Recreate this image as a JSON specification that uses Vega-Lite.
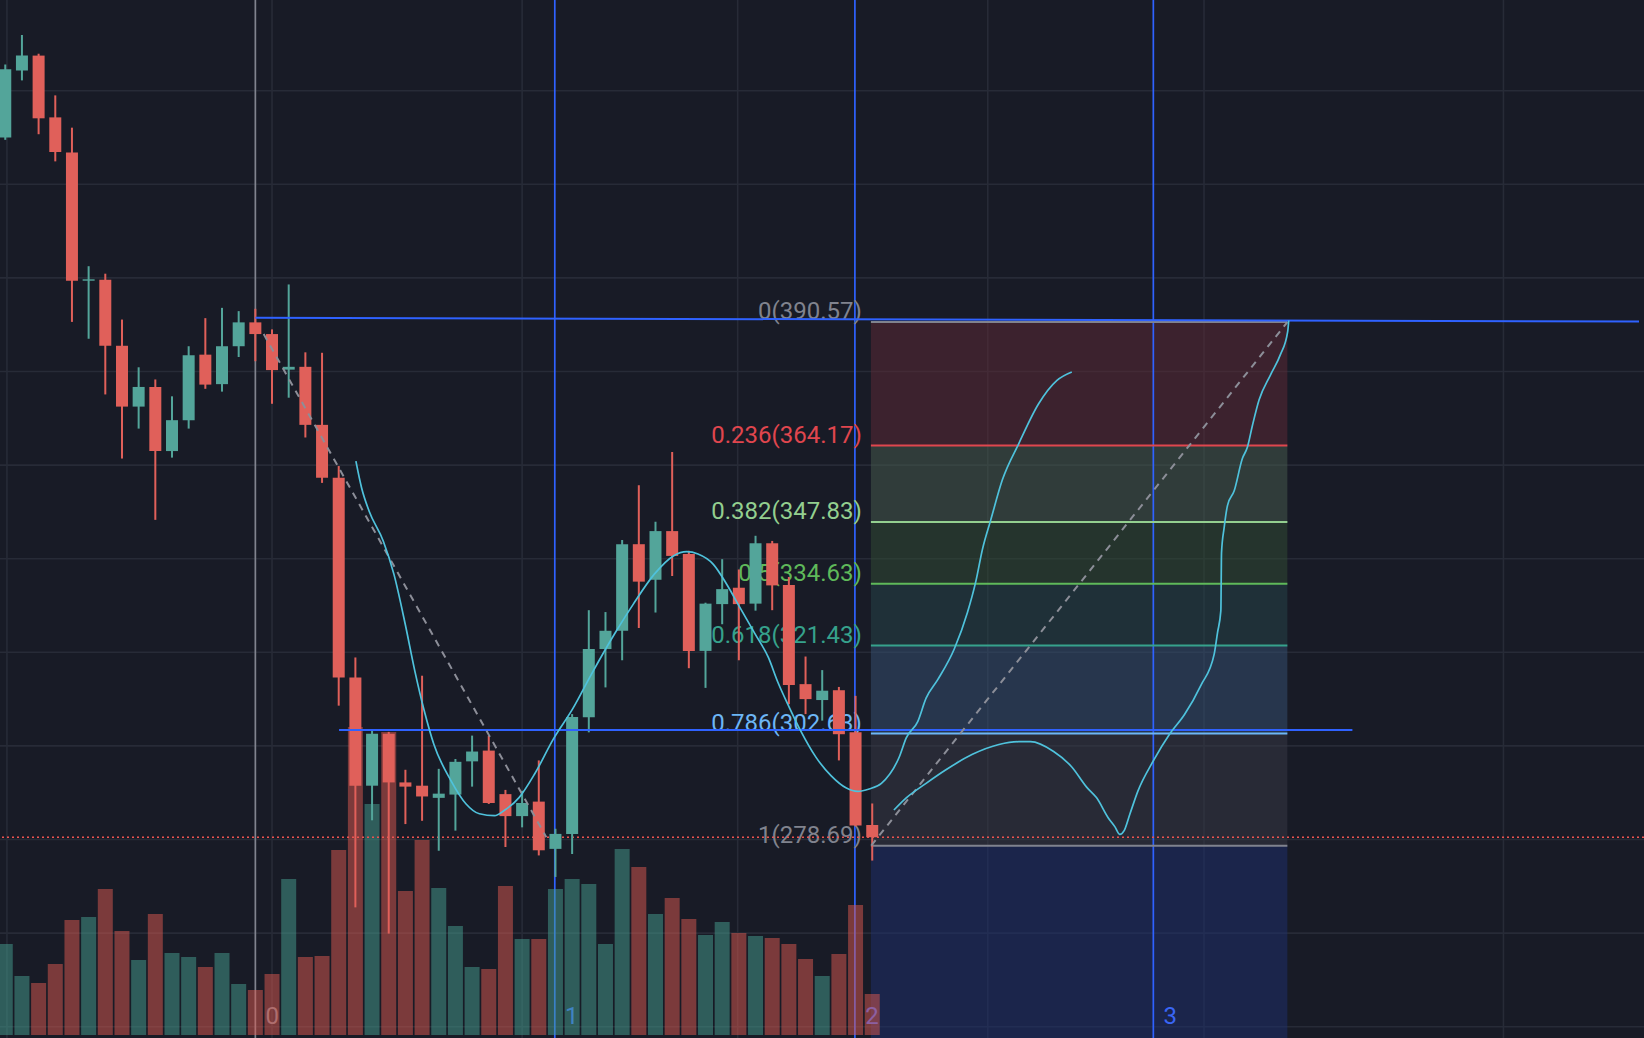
{
  "$schema": "https://vega.github.io/schema/vega-lite/v6.json",
  "width": 1644,
  "height": 1038,
  "autosize": "none",
  "padding": 0,
  "background": "#181b26",
  "config": {
    "view": {"stroke": null},
    "axis": {"disable": true},
    "legend": {"disable": true}
  },
  "datasets": {
    "candles": [
      {"i": -15, "open": 430.0, "high": 445.6, "low": 429.5, "close": 444.6, "volume": 91},
      {"i": -14, "open": 444.3, "high": 451.9, "low": 442.2, "close": 447.5, "volume": 59},
      {"i": -13, "open": 447.5, "high": 447.9, "low": 430.7, "close": 434.1, "volume": 52},
      {"i": -12, "open": 434.3, "high": 439.0, "low": 424.9, "close": 426.9, "volume": 71},
      {"i": -11, "open": 426.8, "high": 432.1, "low": 390.6, "close": 399.4, "volume": 115},
      {"i": -10, "open": 399.4, "high": 402.5, "low": 387.0, "close": 399.7, "volume": 118},
      {"i": -9, "open": 399.6, "high": 400.9, "low": 375.1, "close": 385.5, "volume": 146},
      {"i": -8, "open": 385.5, "high": 391.1, "low": 361.4, "close": 372.5, "volume": 104},
      {"i": -7, "open": 372.5, "high": 380.9, "low": 367.8, "close": 376.7, "volume": 75},
      {"i": -6, "open": 376.7, "high": 378.3, "low": 348.3, "close": 363.0, "volume": 121},
      {"i": -5, "open": 363.0, "high": 374.7, "low": 361.6, "close": 369.6, "volume": 82},
      {"i": -4, "open": 369.6, "high": 385.4, "low": 367.8, "close": 383.5, "volume": 78},
      {"i": -3, "open": 383.6, "high": 391.4, "low": 376.3, "close": 377.2, "volume": 68},
      {"i": -2, "open": 377.3, "high": 393.6, "low": 375.7, "close": 385.4, "volume": 82},
      {"i": -1, "open": 385.4, "high": 392.9, "low": 383.1, "close": 390.5, "volume": 51},
      {"i": 0, "open": 390.5, "high": 393.4, "low": 382.2, "close": 388.0, "volume": 45},
      {"i": 1, "open": 388.0, "high": 389.0, "low": 373.1, "close": 380.3, "volume": 61},
      {"i": 2, "open": 380.4, "high": 398.6, "low": 374.4, "close": 381.0, "volume": 156},
      {"i": 3, "open": 381.0, "high": 384.1, "low": 365.9, "close": 368.6, "volume": 78},
      {"i": 4, "open": 368.6, "high": 384.0, "low": 356.2, "close": 357.3, "volume": 79},
      {"i": 5, "open": 357.3, "high": 359.8, "low": 308.6, "close": 314.6, "volume": 185},
      {"i": 6, "open": 314.6, "high": 318.9, "low": 265.5, "close": 291.5, "volume": 308},
      {"i": 7, "open": 291.5, "high": 303.4, "low": 284.1, "close": 302.6, "volume": 231},
      {"i": 8, "open": 302.6, "high": 303.0, "low": 259.9, "close": 292.2, "volume": 303},
      {"i": 9, "open": 292.2, "high": 294.9, "low": 283.3, "close": 291.3, "volume": 144},
      {"i": 10, "open": 291.5, "high": 315.0, "low": 284.0, "close": 289.2, "volume": 195},
      {"i": 11, "open": 288.9, "high": 295.1, "low": 277.6, "close": 289.8, "volume": 147},
      {"i": 12, "open": 289.6, "high": 297.2, "low": 281.9, "close": 296.6, "volume": 109},
      {"i": 13, "open": 296.7, "high": 302.2, "low": 291.3, "close": 298.8, "volume": 68},
      {"i": 14, "open": 299.0, "high": 302.2, "low": 287.6, "close": 287.8, "volume": 66},
      {"i": 15, "open": 289.7, "high": 290.6, "low": 278.4, "close": 285.0, "volume": 149},
      {"i": 16, "open": 285.0, "high": 290.4, "low": 282.6, "close": 287.8, "volume": 96},
      {"i": 17, "open": 288.1, "high": 296.9, "low": 276.6, "close": 277.7, "volume": 96},
      {"i": 18, "open": 278.0, "high": 282.3, "low": 272.0, "close": 281.2, "volume": 146},
      {"i": 19, "open": 281.2, "high": 306.8, "low": 276.9, "close": 306.2, "volume": 156},
      {"i": 20, "open": 306.1, "high": 329.0, "low": 302.9, "close": 320.7, "volume": 151},
      {"i": 21, "open": 320.7, "high": 328.6, "low": 312.5, "close": 324.6, "volume": 91},
      {"i": 22, "open": 324.6, "high": 344.0, "low": 318.3, "close": 343.1, "volume": 186},
      {"i": 23, "open": 343.1, "high": 355.7, "low": 325.2, "close": 335.1, "volume": 168},
      {"i": 24, "open": 335.5, "high": 347.9, "low": 328.5, "close": 345.9, "volume": 121},
      {"i": 25, "open": 345.9, "high": 362.8, "low": 336.3, "close": 340.6, "volume": 137},
      {"i": 26, "open": 341.0, "high": 341.7, "low": 316.6, "close": 320.3, "volume": 116},
      {"i": 27, "open": 320.3, "high": 330.6, "low": 312.4, "close": 330.4, "volume": 100},
      {"i": 28, "open": 330.3, "high": 339.9, "low": 326.0, "close": 333.5, "volume": 113},
      {"i": 29, "open": 333.8, "high": 337.7, "low": 318.3, "close": 330.3, "volume": 102},
      {"i": 30, "open": 330.4, "high": 344.9, "low": 328.9, "close": 343.3, "volume": 99},
      {"i": 31, "open": 343.3, "high": 343.8, "low": 329.0, "close": 334.3, "volume": 97},
      {"i": 32, "open": 334.4, "high": 336.1, "low": 308.9, "close": 313.0, "volume": 91},
      {"i": 33, "open": 313.2, "high": 319.1, "low": 306.8, "close": 310.0, "volume": 76},
      {"i": 34, "open": 309.8, "high": 316.2, "low": 305.4, "close": 311.8, "volume": 59},
      {"i": 35, "open": 311.9, "high": 312.6, "low": 296.9, "close": 302.5, "volume": 81},
      {"i": 36, "open": 302.9, "high": 310.7, "low": 282.8, "close": 283.0, "volume": 130},
      {"i": 37, "open": 283.1, "high": 287.7, "low": 275.5, "close": 280.48, "volume": 41}
    ],
    "hgrid": [
      {"p": 240}, {"p": 260}, {"p": 280}, {"p": 300}, {"p": 320}, {"p": 340},
      {"p": 360}, {"p": 380}, {"p": 400}, {"p": 420}, {"p": 440}
    ],
    "vgrid": [
      {"i": -14.9}, {"i": 1.0}, {"i": 16.0}, {"i": 28.93}, {"i": 43.93}, {"i": 56.9}, {"i": 74.86}
    ],
    "zones": [
      {"zone": "0-0.236", "top": 390.57, "bottom": 364.17, "start": 36.92, "end": 61.9},
      {"zone": "0.236-0.382", "top": 364.17, "bottom": 347.83, "start": 36.92, "end": 61.9},
      {"zone": "0.382-0.5", "top": 347.83, "bottom": 334.63, "start": 36.92, "end": 61.9},
      {"zone": "0.5-0.618", "top": 334.63, "bottom": 321.43, "start": 36.92, "end": 61.9},
      {"zone": "0.618-0.786", "top": 321.43, "bottom": 302.63, "start": 36.92, "end": 61.9},
      {"zone": "0.786-1", "top": 302.63, "bottom": 278.69, "start": 36.92, "end": 61.9},
      {"zone": "1-1.618", "top": 278.69, "bottom": 237.59, "start": 36.92, "end": 61.9}
    ],
    "levels": [
      {"ratio": "0", "price": 390.57, "label": "0(390.57)", "start": 36.92, "end": 61.9},
      {"ratio": "0.236", "price": 364.17, "label": "0.236(364.17)", "start": 36.92, "end": 61.9},
      {"ratio": "0.382", "price": 347.83, "label": "0.382(347.83)", "start": 36.92, "end": 61.9},
      {"ratio": "0.5", "price": 334.63, "label": "0.5(334.63)", "start": 36.92, "end": 61.9},
      {"ratio": "0.618", "price": 321.43, "label": "0.618(321.43)", "start": 36.92, "end": 61.9},
      {"ratio": "0.786", "price": 302.63, "label": "0.786(302.63)", "start": 36.92, "end": 61.9},
      {"ratio": "1", "price": 278.69, "label": "1(278.69)", "start": 36.92, "end": 61.9}
    ],
    "cycles": [
      {"n": 0, "i": 0}, {"n": 1, "i": 17.96}, {"n": 2, "i": 35.96}, {"n": 3, "i": 53.86}
    ],
    "trend": [
      {"line": "top", "i": 0, "p": 391.5},
      {"line": "top", "i": 82.99, "p": 390.66},
      {"line": "mid", "i": 5.02, "p": 303.4},
      {"line": "mid", "i": 65.8, "p": 303.4}
    ],
    "dashed": [
      {"seg": "a", "i": 0.5, "p": 388.0},
      {"seg": "a", "i": 17.45, "p": 280.5},
      {"seg": "b", "i": 36.94, "p": 278.69},
      {"seg": "b", "i": 61.9, "p": 390.57}
    ],
    "brush": [
      {"path": "a", "k": 1, "i": 6.03, "p": 360.86},
      {"path": "a", "k": 2, "i": 6.37, "p": 355.17},
      {"path": "a", "k": 3, "i": 6.82, "p": 350.2},
      {"path": "a", "k": 4, "i": 7.67, "p": 343.8},
      {"path": "a", "k": 5, "i": 8.31, "p": 336.7},
      {"path": "a", "k": 6, "i": 8.99, "p": 326.0},
      {"path": "a", "k": 7, "i": 9.56, "p": 316.1},
      {"path": "a", "k": 8, "i": 10.13, "p": 307.5},
      {"path": "a", "k": 9, "i": 10.7, "p": 300.4},
      {"path": "a", "k": 10, "i": 11.73, "p": 292.6},
      {"path": "a", "k": 11, "i": 12.64, "p": 287.6},
      {"path": "a", "k": 12, "i": 13.44, "p": 285.5},
      {"path": "a", "k": 13, "i": 14.35, "p": 285.1},
      {"path": "a", "k": 14, "i": 14.92, "p": 286.2},
      {"path": "a", "k": 15, "i": 15.83, "p": 289.0},
      {"path": "a", "k": 16, "i": 16.75, "p": 294.0},
      {"path": "a", "k": 17, "i": 17.88, "p": 301.5},
      {"path": "a", "k": 18, "i": 19.03, "p": 307.9},
      {"path": "a", "k": 19, "i": 20.17, "p": 315.4},
      {"path": "a", "k": 20, "i": 21.54, "p": 323.9},
      {"path": "a", "k": 21, "i": 22.67, "p": 330.3},
      {"path": "a", "k": 22, "i": 23.93, "p": 336.7},
      {"path": "a", "k": 23, "i": 25.07, "p": 340.6},
      {"path": "a", "k": 24, "i": 25.87, "p": 341.5},
      {"path": "a", "k": 25, "i": 26.55, "p": 341.0},
      {"path": "a", "k": 26, "i": 27.47, "p": 338.8},
      {"path": "a", "k": 27, "i": 28.26, "p": 334.6},
      {"path": "a", "k": 28, "i": 29.06, "p": 329.6},
      {"path": "a", "k": 29, "i": 29.98, "p": 323.9},
      {"path": "a", "k": 30, "i": 30.77, "p": 318.9},
      {"path": "a", "k": 31, "i": 31.34, "p": 313.6},
      {"path": "a", "k": 32, "i": 32.03, "p": 308.2},
      {"path": "a", "k": 33, "i": 32.71, "p": 303.2},
      {"path": "a", "k": 34, "i": 33.62, "p": 297.6},
      {"path": "a", "k": 35, "i": 34.54, "p": 293.6},
      {"path": "a", "k": 36, "i": 35.45, "p": 291.0},
      {"path": "a", "k": 37, "i": 36.13, "p": 290.3},
      {"path": "a", "k": 38, "i": 36.82, "p": 290.8},
      {"path": "a", "k": 39, "i": 37.55, "p": 292.0},
      {"path": "a", "k": 40, "i": 38.64, "p": 297.8},
      {"path": "a", "k": 41, "i": 39.04, "p": 301.7},
      {"path": "a", "k": 42, "i": 39.73, "p": 305.2},
      {"path": "a", "k": 43, "i": 40.23, "p": 310.2},
      {"path": "a", "k": 44, "i": 40.92, "p": 314.1},
      {"path": "a", "k": 45, "i": 41.92, "p": 320.7},
      {"path": "a", "k": 46, "i": 42.71, "p": 328.5},
      {"path": "a", "k": 47, "i": 43.21, "p": 335.1},
      {"path": "a", "k": 48, "i": 43.61, "p": 342.0},
      {"path": "a", "k": 49, "i": 44.11, "p": 348.3},
      {"path": "a", "k": 50, "i": 44.8, "p": 356.8},
      {"path": "a", "k": 51, "i": 45.79, "p": 364.6},
      {"path": "a", "k": 52, "i": 46.98, "p": 373.1},
      {"path": "a", "k": 53, "i": 48.08, "p": 378.1},
      {"path": "a", "k": 54, "i": 48.97, "p": 379.9},
      {"path": "b", "k": 1, "i": 38.3, "p": 286.3},
      {"path": "b", "k": 2, "i": 39.04, "p": 288.9},
      {"path": "b", "k": 3, "i": 40.23, "p": 292.0},
      {"path": "b", "k": 4, "i": 41.42, "p": 294.9},
      {"path": "b", "k": 5, "i": 43.01, "p": 298.2},
      {"path": "b", "k": 6, "i": 44.6, "p": 300.3},
      {"path": "b", "k": 7, "i": 45.79, "p": 300.9},
      {"path": "b", "k": 8, "i": 46.49, "p": 300.9},
      {"path": "b", "k": 9, "i": 47.88, "p": 298.8},
      {"path": "b", "k": 10, "i": 48.97, "p": 295.5},
      {"path": "b", "k": 11, "i": 49.86, "p": 291.2},
      {"path": "b", "k": 12, "i": 50.46, "p": 288.9},
      {"path": "b", "k": 13, "i": 51.16, "p": 284.6},
      {"path": "b", "k": 14, "i": 51.56, "p": 282.7},
      {"path": "b", "k": 15, "i": 51.85, "p": 281.1},
      {"path": "b", "k": 16, "i": 52.11, "p": 281.9},
      {"path": "b", "k": 17, "i": 52.45, "p": 285.4},
      {"path": "b", "k": 18, "i": 52.94, "p": 290.4},
      {"path": "b", "k": 19, "i": 53.84, "p": 296.7},
      {"path": "b", "k": 20, "i": 54.83, "p": 302.5},
      {"path": "b", "k": 21, "i": 55.73, "p": 306.7},
      {"path": "b", "k": 22, "i": 56.72, "p": 313.0},
      {"path": "b", "k": 23, "i": 57.51, "p": 319.6},
      {"path": "b", "k": 24, "i": 57.71, "p": 324.2},
      {"path": "b", "k": 25, "i": 57.91, "p": 328.9},
      {"path": "b", "k": 26, "i": 57.95, "p": 341.3},
      {"path": "b", "k": 27, "i": 58.11, "p": 346.7},
      {"path": "b", "k": 28, "i": 58.31, "p": 351.4},
      {"path": "b", "k": 29, "i": 58.71, "p": 354.5},
      {"path": "b", "k": 30, "i": 59.2, "p": 361.4},
      {"path": "b", "k": 31, "i": 59.5, "p": 363.8},
      {"path": "b", "k": 32, "i": 59.8, "p": 368.4},
      {"path": "b", "k": 33, "i": 60.2, "p": 373.9},
      {"path": "b", "k": 34, "i": 60.89, "p": 379.3},
      {"path": "b", "k": 35, "i": 61.48, "p": 383.6},
      {"path": "b", "k": 36, "i": 61.92, "p": 388.6},
      {"path": "b", "k": 37, "i": 61.98, "p": 390.9}
    ]
  },
  "resolve": {"scale": {"y": "independent", "color": "independent"}},
  "layer": [
    {
      "layer": [
        {
          "data": {"name": "hgrid"},
          "mark": {"type": "rule", "color": "#272b37", "strokeWidth": 1.6},
          "encoding": {
            "y": {"field": "p", "type": "quantitative", "scale": {"domain": [237.59, 459.38], "nice": false, "zero": false}}
          }
        },
        {
          "data": {"name": "vgrid"},
          "mark": {"type": "rule", "color": "#272b37", "strokeWidth": 1.6},
          "encoding": {
            "x": {"field": "i", "type": "quantitative", "scale": {"domain": [-15.016, 82.99], "nice": false, "zero": false}}
          }
        },
        {
          "data": {"name": "zones"},
          "mark": {"type": "rect", "opacity": 0.5},
          "encoding": {
            "x": {"field": "start", "type": "quantitative", "scale": {"domain": [-15.016, 82.99], "nice": false, "zero": false}},
            "x2": {"field": "end"},
            "y": {"field": "top", "type": "quantitative", "scale": {"domain": [237.59, 459.38], "nice": false, "zero": false}},
            "y2": {"field": "bottom"},
            "color": {
              "field": "zone", "type": "nominal", "legend": null,
              "scale": {
                "domain": ["0-0.236", "0.236-0.382", "0.382-0.5", "0.5-0.618", "0.618-0.786", "0.786-1", "1-1.618"],
                "range": ["#602936", "#485d4e", "#324d34", "#26454a", "#365174", "#383946", "#1e2f70"]
              }
            }
          }
        },
        {
          "data": {"name": "cycles"},
          "mark": {"type": "rule", "strokeWidth": 1.7},
          "encoding": {
            "x": {"field": "i", "type": "quantitative", "scale": {"domain": [-15.016, 82.99], "nice": false, "zero": false}},
            "color": {"condition": {"test": "datum.n == 0", "value": "#80838e"}, "value": "#2f62ff"}
          }
        },
        {
          "data": {"name": "cycles"},
          "mark": {"type": "text", "font": "Roboto", "fontSize": 24, "align": "center", "baseline": "alphabetic", "dx": 17},
          "encoding": {
            "x": {"field": "i", "type": "quantitative", "scale": {"domain": [-15.016, 82.99], "nice": false, "zero": false}},
            "y": {"datum": 240.6, "type": "quantitative", "scale": {"domain": [237.59, 459.38], "nice": false, "zero": false}},
            "text": {"field": "n"},
            "color": {"condition": {"test": "datum.n == 0", "value": "#80838e"}, "value": "#3a66f5"}
          }
        }
      ]
    },
    {
      "data": {"name": "candles"},
      "mark": {"type": "bar", "size": 15, "opacity": 0.5},
      "encoding": {
        "x": {"field": "i", "type": "quantitative", "scale": {"domain": [-15.016, 82.99], "nice": false, "zero": false}},
        "y": {"field": "volume", "type": "quantitative", "scale": {"domain": [-3, 1035], "nice": false}},
        "color": {"condition": {"test": "datum.close >= datum.open", "value": "#469f90"}, "value": "#de5950"}
      }
    },
    {
      "layer": [
        {
          "data": {"name": "levels"},
          "mark": {"type": "text", "font": "Roboto", "fontSize": 24, "align": "right", "baseline": "alphabetic", "dx": -9, "dy": -3},
          "encoding": {
            "x": {"field": "start", "type": "quantitative", "scale": {"domain": [-15.016, 82.99], "nice": false, "zero": false}},
            "y": {"field": "price", "type": "quantitative", "scale": {"domain": [237.59, 459.38], "nice": false, "zero": false}},
            "text": {"field": "label"},
            "color": {
              "field": "ratio", "type": "nominal", "legend": null,
              "scale": {
                "domain": ["0", "0.236", "0.382", "0.5", "0.618", "0.786", "1"],
                "range": ["#80838e", "#e0464e", "#93cf8f", "#5fb95a", "#36a28c", "#6db6f5", "#80838e"]
              }
            }
          }
        },
        {
          "data": {"name": "levels"},
          "mark": {"type": "rule", "strokeWidth": 2},
          "encoding": {
            "x": {"field": "start", "type": "quantitative", "scale": {"domain": [-15.016, 82.99], "nice": false, "zero": false}},
            "x2": {"field": "end"},
            "y": {"field": "price", "type": "quantitative", "scale": {"domain": [237.59, 459.38], "nice": false, "zero": false}},
            "color": {"field": "ratio", "type": "nominal", "legend": null}
          }
        },
        {
          "data": {"name": "candles"},
          "transform": [{"filter": "datum.i == 37"}],
          "mark": {"type": "rule", "color": "#ef5350", "strokeWidth": 1.6, "strokeDash": [2, 3]},
          "encoding": {
            "y": {"field": "close", "type": "quantitative", "scale": {"domain": [237.59, 459.38], "nice": false, "zero": false}}
          }
        },
        {
          "data": {"name": "candles"},
          "mark": {"type": "rule", "strokeWidth": 2},
          "encoding": {
            "x": {"field": "i", "type": "quantitative", "scale": {"domain": [-15.016, 82.99], "nice": false, "zero": false}},
            "y": {"field": "low", "type": "quantitative", "scale": {"domain": [237.59, 459.38], "nice": false, "zero": false}},
            "y2": {"field": "high"},
            "color": {"condition": {"test": "datum.close >= datum.open", "value": "#53a59a"}, "value": "#e0605a"}
          }
        },
        {
          "data": {"name": "candles"},
          "mark": {"type": "bar", "size": 12},
          "encoding": {
            "x": {"field": "i", "type": "quantitative", "scale": {"domain": [-15.016, 82.99], "nice": false, "zero": false}},
            "y": {"field": "open", "type": "quantitative", "scale": {"domain": [237.59, 459.38], "nice": false, "zero": false}},
            "y2": {"field": "close"},
            "color": {"condition": {"test": "datum.close >= datum.open", "value": "#53a59a"}, "value": "#e0605a"}
          }
        },
        {
          "data": {"name": "trend"},
          "mark": {"type": "line", "color": "#2f62ff", "strokeWidth": 2},
          "encoding": {
            "x": {"field": "i", "type": "quantitative", "scale": {"domain": [-15.016, 82.99], "nice": false, "zero": false}},
            "y": {"field": "p", "type": "quantitative", "scale": {"domain": [237.59, 459.38], "nice": false, "zero": false}},
            "detail": {"field": "line"}
          }
        },
        {
          "data": {"name": "dashed"},
          "mark": {"type": "line", "color": "#8c8e98", "strokeWidth": 2, "strokeDash": [7, 6]},
          "encoding": {
            "x": {"field": "i", "type": "quantitative", "scale": {"domain": [-15.016, 82.99], "nice": false, "zero": false}},
            "y": {"field": "p", "type": "quantitative", "scale": {"domain": [237.59, 459.38], "nice": false, "zero": false}},
            "detail": {"field": "seg"}
          }
        },
        {
          "data": {"name": "brush"},
          "mark": {"type": "line", "color": "#4fc2dc", "strokeWidth": 1.7, "interpolate": "monotone"},
          "encoding": {
            "x": {"field": "i", "type": "quantitative", "scale": {"domain": [-15.016, 82.99], "nice": false, "zero": false}},
            "y": {"field": "p", "type": "quantitative", "scale": {"domain": [237.59, 459.38], "nice": false, "zero": false}},
            "detail": {"field": "path"},
            "order": {"field": "k"}
          }
        },
        {
          "mark": {"type": "rule", "color": "#2c2f37", "strokeWidth": 5},
          "encoding": {
            "y": {"datum": 237.59, "type": "quantitative", "scale": {"domain": [237.59, 459.38], "nice": false, "zero": false}}
          }
        }
      ]
    }
  ]
}
